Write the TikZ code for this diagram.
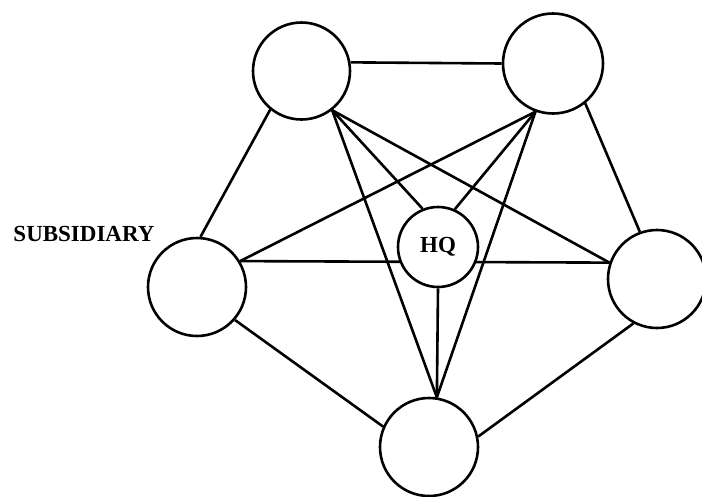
\documentclass[tikz,border=0pt]{standalone}
\usepackage{fontspec}
\setmainfont{Liberation Serif}
\usetikzlibrary{backgrounds}
\tikzset{
  site/.style={circle, draw=black, line width=2.6pt, fill=white, inner sep=0pt},
  link/.style={line width=2.6pt, black},
  lbl/.style={font=\fontsize{23}{23}\selectfont\bfseries, inner sep=0pt}
}
\begin{document}
\begin{tikzpicture}[x=1pt,y=-1pt]
\useasboundingbox (0,0) rectangle (702,496);
\node[site, minimum size=97pt] (TL) at (301.5,71) {};
\node[site, minimum size=100pt] (TR) at (553,63.5) {};
\node[site, minimum size=98pt] (L) at (197,287) {};
\node[site, minimum size=98pt] (R) at (657,279) {};
\node[site, minimum size=98pt] (B) at (429,447) {};
\node[site, minimum size=80pt, lbl] (HQ) at (438,247) {HQ};
\node[lbl] (sub) at (84,234) {SUBSIDIARY};
\begin{pgfonlayer}{background}
% outer ring
\draw[link] (TL.10) -- (TR.180);
\draw[link] (TL.231) -- (L.86);
\draw[link] (TR.-51) -- (R.110);
\draw[link] (L.-41) -- (B.156);
\draw[link] (R.242) -- (B.12);
% star
\draw[link] (TL.-52) -- (R.161);
\draw[link] (TL.-52) -- (B.81);
\draw[link] (TR.-110) -- (L.31);
\draw[link] (TR.-110) -- (B.81);
\draw[link] (L.31) -- (R.161);
% to HQ
\draw[link] (TL.-52) -- (HQ.112);
\draw[link] (TR.-110) -- (HQ.66);
\draw[link] (HQ.-90) -- (B.81);
\end{pgfonlayer}
\end{tikzpicture}
\end{document}
